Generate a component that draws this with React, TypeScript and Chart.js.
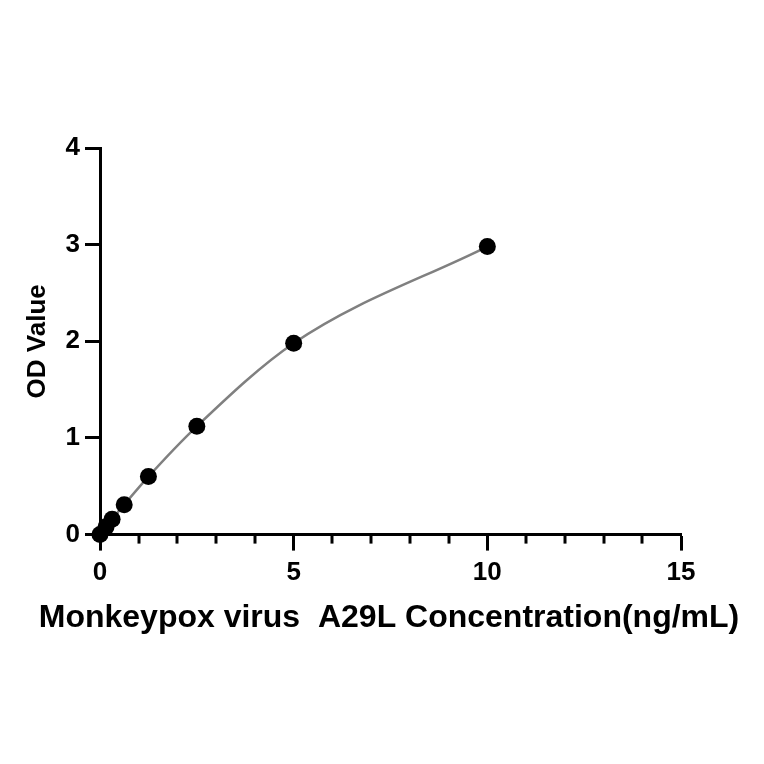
import React, { useEffect, useRef } from "react";
import { Chart, registerables } from "chart.js";

Chart.register(...registerables);

const concentrations = [0, 0.156, 0.3125, 0.625, 1.25, 2.5, 5, 10];
const odValues = [0, 0.08, 0.16, 0.31, 0.6, 1.12, 1.98, 2.98];
const xTitle = "Monkeypox virus  A29L Concentration(ng/mL)";
const yTitle = "OD Value";
const xMin = 0, xMax = 15, xMajor = 5, xMinor = 1;
const yMin = 0, yMax = 4, yStep = 1;

const FONT = "'Liberation Sans', Arial, 'Noto Sans CJK SC', sans-serif";

const minorTicks = {
  id: "minorTicks",
  afterDraw(chart: any) {
    const x = chart.scales.x;
    const ctx = chart.ctx;
    ctx.save();
    ctx.strokeStyle = "#000";
    ctx.lineWidth = 3;
    for (let v = xMin; v <= xMax; v += xMinor) {
      if (v % xMajor === 0) continue;
      const px = Math.round(x.getPixelForValue(v));
      ctx.beginPath();
      ctx.moveTo(px, x.top);
      ctx.lineTo(px, x.top + 9);
      ctx.stroke();
    }
    ctx.restore();
  },
};

export default function App() {
  const ref = useRef<HTMLCanvasElement>(null);
  useEffect(() => {
    if (!ref.current) return;
    const chart = new Chart(ref.current, {
      type: "scatter",
      data: {
        datasets: [
          {
            data: concentrations.map((c, i) => ({ x: c, y: odValues[i] })),
            showLine: true,
            cubicInterpolationMode: "monotone",
            borderColor: "#808080",
            borderWidth: 2.5,
            backgroundColor: "#000",
            pointBackgroundColor: "#000",
            pointBorderColor: "#000",
            pointRadius: 8.5,
            pointBorderWidth: 0,
            clip: false,
          } as any,
        ],
      },
      options: {
        responsive: false,
        animation: false,
        events: [],
        layout: { padding: { top: 148, right: 0, bottom: 127, left: 14 } },
        plugins: {
          legend: { display: false },
          tooltip: { enabled: false },
          title: {
            display: true,
            position: "bottom",
            text: xTitle,
            color: "#000",
            font: { family: FONT, size: 32, weight: "bold", lineHeight: 1.2 },
            padding: { top: 3, bottom: 0 },
          },
        },
        scales: {
          x: {
            type: "linear",
            min: xMin,
            max: xMax,
            afterFit: (s: any) => { s.height = 61; },
            border: { display: true, color: "#000", width: 3 },
            grid: {
              drawOnChartArea: false,
              drawTicks: true,
              tickLength: 16,
              tickWidth: 3,
              tickColor: (c: any) => (c.tick && c.tick.value % xMajor === 0 ? "#000" : "rgba(0,0,0,0)"),
            },
            ticks: {
              stepSize: xMinor,
              autoSkip: false,
              maxRotation: 0,
              padding: 7,
              color: "#000",
              font: { family: FONT, size: 26, weight: "bold" },
              callback: (v: any) => (Number(v) % xMajor === 0 ? String(v) : ""),
            },
          },
          y: {
            type: "linear",
            min: yMin,
            max: yMax,
            afterFit: (s: any) => { s.width = 86; },
            border: { display: true, color: "#000", width: 3 },
            grid: {
              drawOnChartArea: false,
              drawTicks: true,
              tickLength: 15,
              tickWidth: 3,
              tickColor: "#000",
            },
            ticks: {
              stepSize: yStep,
              padding: 5,
              color: "#000",
              font: { family: FONT, size: 26, weight: "bold" },
            },
            title: {
              display: true,
              text: yTitle,
              color: "#000",
              font: { family: FONT, size: 26, weight: "bold" },
              padding: { top: 8, bottom: 0 },
            },
          },
          yRight: {
            type: "linear",
            position: "right",
            display: true,
            min: yMin,
            max: yMax,
            afterFit: (s: any) => { s.width = 83; },
            border: { display: false },
            grid: { display: false, drawTicks: false },
            ticks: { display: false },
          },
        },
      },
      plugins: [minorTicks],
    });
    return () => chart.destroy();
  }, []);
  return (
    <div style={{ position: "absolute", left: 0, top: 0, width: 764, height: 764, background: "#fff" }}>
      <canvas ref={ref} width={764} height={764} />
    </div>
  );
}
